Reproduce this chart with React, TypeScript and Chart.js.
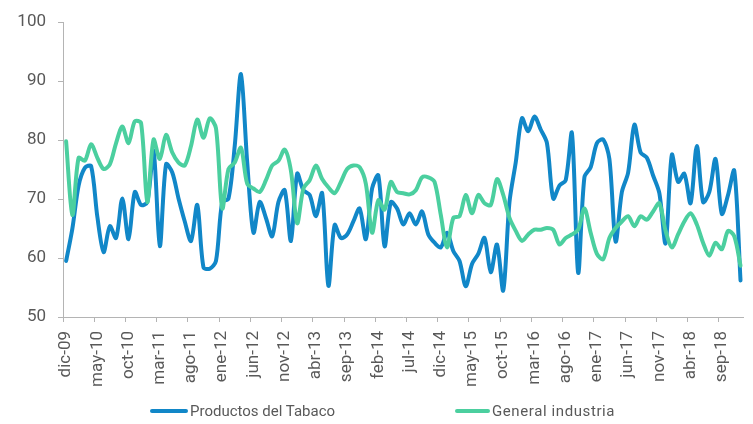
import { useEffect, useRef } from "react";
import { Chart, registerables } from "chart.js";

Chart.register(...registerables);

const categories = [
  "dic-09",
  "ene-10", "feb-10", "mar-10", "abr-10", "may-10", "jun-10", "jul-10", "ago-10", "sep-10", "oct-10", "nov-10", "dic-10",
  "ene-11", "feb-11", "mar-11", "abr-11", "may-11", "jun-11", "jul-11", "ago-11", "sep-11", "oct-11", "nov-11", "dic-11",
  "ene-12", "feb-12", "mar-12", "abr-12", "may-12", "jun-12", "jul-12", "ago-12", "sep-12", "oct-12", "nov-12", "dic-12",
  "ene-13", "feb-13", "mar-13", "abr-13", "may-13", "jun-13", "jul-13", "ago-13", "sep-13", "oct-13", "nov-13", "dic-13",
  "ene-14", "feb-14", "mar-14", "abr-14", "may-14", "jun-14", "jul-14", "ago-14", "sep-14", "oct-14", "nov-14", "dic-14",
  "ene-15", "feb-15", "mar-15", "abr-15", "may-15", "jun-15", "jul-15", "ago-15", "sep-15", "oct-15", "nov-15", "dic-15",
  "ene-16", "feb-16", "mar-16", "abr-16", "may-16", "jun-16", "jul-16", "ago-16", "sep-16", "oct-16", "nov-16", "dic-16",
  "ene-17", "feb-17", "mar-17", "abr-17", "may-17", "jun-17", "jul-17", "ago-17", "sep-17", "oct-17", "nov-17", "dic-17",
  "ene-18", "feb-18", "mar-18", "abr-18", "may-18", "jun-18", "jul-18", "ago-18", "sep-18", "oct-18", "nov-18", "dic-18",
];

const tabaco = [
  59.5,
  65, 72.3, 75.3, 75.6, 67, 61, 65.4, 63.4, 70.1, 63.2, 71.2, 69,
  69.5, 78.2, 62, 75.9, 74.5, 70.1, 66.2, 62.9, 69, 58.4, 58.2, 59.5,
  69.5, 70.1, 79, 91.2, 76.2, 64.3, 69.5, 66.8, 63.7, 69.5, 71.5, 62.9,
  74.3, 71.5, 70.7, 67.1, 71, 55.3, 65.6, 63.4, 64, 66.2, 68.4, 63.2,
  71.8, 74, 62, 69.5, 68.4, 65.7, 67.6, 65.7, 67.9, 64, 62.6, 61.8,
  64.3, 61.2, 59.5, 55.2, 59, 60.7, 63.4, 57.6, 62.3, 54.5, 69.5, 76.2,
  83.7, 81.5, 84, 81.8, 79.5, 70.1, 72.3, 73.2, 81.2, 57.5, 73.7, 75.4,
  79.5, 80.1, 76.8, 62.8, 71.2, 74.5, 82.6, 77.9, 77, 74, 71, 62.5,
  77.5, 72.9, 74.3, 69.3, 79, 69.5, 71.2, 76.8, 67.5, 70.7, 74.8, 56.2,
];

const industria = [
  79.8,
  67.3, 77, 76.5, 79.3, 77, 75.1, 75.9, 79.5, 82.3, 79.5, 83.2, 82.9,
  69.5, 80.1, 76.8, 80.9, 77.9, 76.2, 75.7, 79, 83.5, 80.4, 83.7, 82,
  68.4, 75.1, 76.2, 78.7, 72.6, 71.8, 71.2, 73.2, 75.7, 76.5, 78.4, 74.8,
  65.9, 71.8, 73.2, 75.7, 73.4, 72, 71, 72.9, 75.1, 75.7, 75.4, 72.6,
  64.3, 69.8, 68.2, 72.9, 71.2, 71, 70.8, 71.5, 73.7, 73.7, 72.9, 67.3,
  61.8, 66.8, 67.1, 70.7, 67.6, 70.7, 69.3, 69, 73.4, 70.7, 66.8, 64.6,
  62.9, 64, 64.8, 64.8, 65.1, 64.8, 62.3, 63.4, 64, 64.8, 68.4, 64.3,
  60.7, 59.8, 63.4, 65.1, 66.2, 67.1, 65.4, 67.1, 66.5, 67.9, 69.3, 64.6,
  61.8, 64, 66.2, 67.6, 65.7, 62.6, 60.4, 62.6, 61.5, 64.6, 63.7, 58.7,
];

const seriesNames = ["Productos del Tabaco", "General industria"];

const BLUE = "#1187c8";
const GREEN = "#4bcf9f";
const AXIS = "#b4b4b4";
const TEXT = "#595959";
const FONT = "Roboto";

export default function App() {
  const ref = useRef<HTMLCanvasElement>(null);

  useEffect(() => {
    if (!ref.current) return;
    const chart = new Chart(ref.current, {
      type: "line",
      data: {
        labels: categories,
        datasets: [
          {
            label: seriesNames[0],
            data: tabaco,
            borderColor: BLUE,
            backgroundColor: BLUE,
            borderWidth: 4,
            pointRadius: 0,
            tension: 0.3,
            borderCapStyle: "round",
            borderJoinStyle: "round",
            order: 1,
          },
          {
            label: seriesNames[1],
            data: industria,
            borderColor: GREEN,
            backgroundColor: GREEN,
            borderWidth: 4,
            pointRadius: 0,
            tension: 0.3,
            borderCapStyle: "round",
            borderJoinStyle: "round",
            order: 0,
          },
        ],
      },
      options: {
        responsive: false,
        animation: false,
        layout: { padding: { top: 17, right: 16, left: 0, bottom: 0 } },
        plugins: {
          legend: { display: false },
          tooltip: { enabled: false },
        },
        scales: {
          x: {
            offset: true,
            grid: {
              offset: true,
              drawOnChartArea: false,
              drawTicks: true,
              tickLength: 5,
              color: (c: any) => (c.index % 5 === 0 ? AXIS : "rgba(0,0,0,0)"),
            },
            border: { color: AXIS, width: 1 },
            ticks: {
              autoSkip: false,
              minRotation: 90,
              maxRotation: 90,
              padding: 9,
              color: TEXT,
              font: { family: FONT, size: 17 },
              callback: (_v: any, i: number) => (i % 5 === 0 ? categories[i] : ""),
            },
            afterFit: (s: any) => {
              s.height = 107;
            },
          },
          y: {
            min: 50,
            max: 100,
            grid: {
              drawOnChartArea: false,
              drawTicks: true,
              tickLength: 5,
              color: AXIS,
            },
            border: { color: AXIS, width: 1 },
            ticks: {
              stepSize: 10,
              padding: 12,
              color: TEXT,
              font: { family: FONT, size: 17 },
            },
            afterFit: (s: any) => {
              s.width = 63;
            },
          },
        },
      },
    });
    return () => chart.destroy();
  }, []);

  const legendText: React.CSSProperties = {
    position: "absolute",
    top: 402,
    fontFamily: FONT,
    fontSize: 15,
    lineHeight: "18px",
    color: TEXT,
    whiteSpace: "nowrap",
  };

  return (
    <div
      style={{
        position: "fixed",
        left: 0,
        top: 0,
        width: 753,
        height: 424,
        overflow: "hidden",
        background: "#fff",
      }}
    >
      <canvas ref={ref} width={770} height={424} style={{ position: "absolute", left: 0, top: 0 }} />
      <div style={{ position: "absolute", left: 150, top: 409, width: 38, height: 4, background: BLUE, borderRadius: 2 }} />
      <div style={{ ...legendText, left: 190 }}>{seriesNames[0]}</div>
      <div style={{ position: "absolute", left: 455, top: 409, width: 35, height: 4, background: GREEN, borderRadius: 2 }} />
      <div style={{ ...legendText, left: 492, letterSpacing: "0.6px" }}>{seriesNames[1]}</div>
    </div>
  );
}
